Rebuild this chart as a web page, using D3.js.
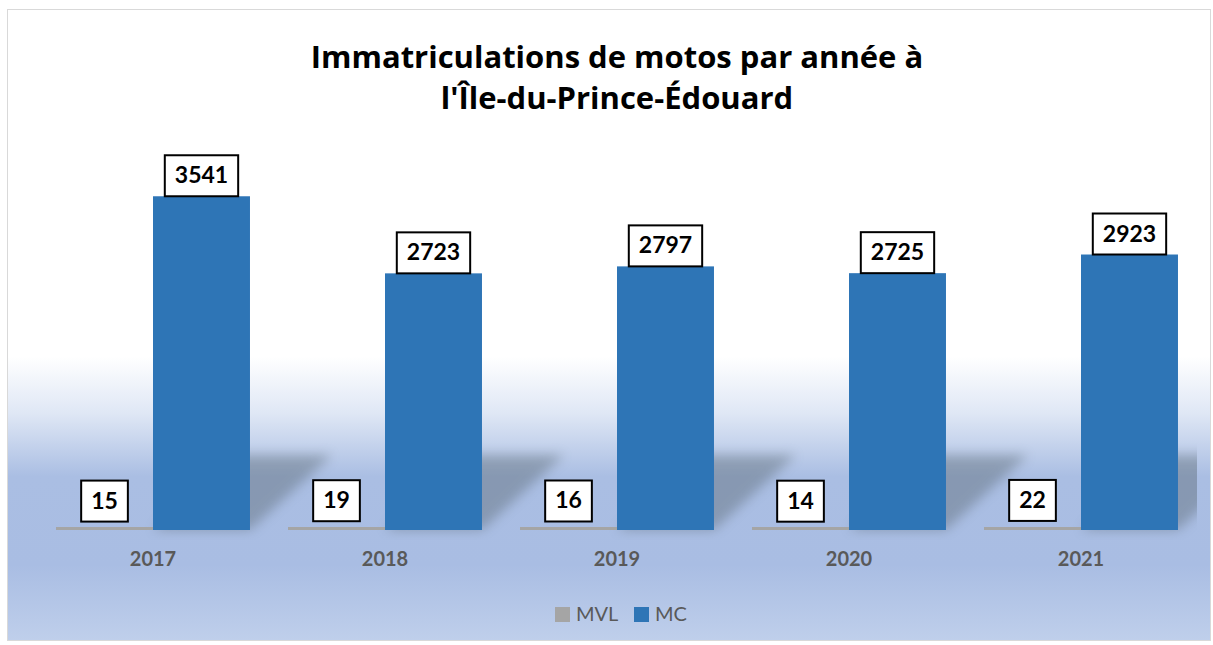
<!DOCTYPE html>
<html>
<head>
<meta charset="utf-8">
<script src="https://cdn.jsdelivr.net/npm/d3@7"></script>
<style>
  body { margin: 0; background: #fff; }
  svg { display: block; }
</style>
</head>
<body>
<script>
// data
var years = ["2017", "2018", "2019", "2020", "2021"];
var seriesNames = ["MVL", "MC"];
var mvl = [15, 19, 16, 14, 22];
var mc = [3541, 2723, 2797, 2725, 2923];
var titleLines = ["Immatriculations de motos par année à", "l'Île-du-Prince-Édouard"];

var width = 1213, height = 645;
var colors = { MVL: "#a5a5a5", MC: "#2e75b6" };
var baseY = 530;

var svg = d3.select("body").append("svg")
  .attr("width", width)
  .attr("height", height);

var defs = svg.append("defs");

// chart area background: white top fading to a light blue
var grad = defs.append("linearGradient")
  .attr("id", "bg").attr("x1", 0).attr("y1", 0).attr("x2", 0).attr("y2", 1);
[[0, "#ffffff"], [0.55, "#ffffff"], [0.64, "#dfe7f5"], [0.74, "#aabee3"],
 [0.88, "#a9bde3"], [1, "#bfcfeb"]].forEach(function(s) {
  grad.append("stop").attr("offset", s[0]).attr("stop-color", s[1]);
});

var blur = defs.append("filter").attr("id", "blur")
  .attr("x", "-30%").attr("y", "-30%").attr("width", "160%").attr("height", "160%");
blur.append("feGaussianBlur").attr("stdDeviation", 6);

defs.append("clipPath").attr("id", "plotclip")
  .append("rect").attr("x", 37).attr("y", 140).attr("width", 1160).attr("height", 400);

svg.append("rect")
  .attr("x", 7.5).attr("y", 9.5)
  .attr("width", 1203).attr("height", 631)
  .attr("fill", "url(#bg)")
  .attr("stroke", "#d9d9d9");

// title
svg.append("g").selectAll("text")
  .data(titleLines)
  .enter().append("text")
  .attr("x", 617)
  .attr("y", function(d, i) { return 68 + i * 41; })
  .attr("text-anchor", "middle")
  .style("font-family", "'Open Sans', Lato, sans-serif")
  .style("font-weight", "bold")
  .style("font-size", "31px")
  .attr("fill", "#000")
  .text(function(d) { return d; });

// scales
var x0 = d3.scaleBand()
  .domain(years)
  .range([37, 1197])
  .paddingInner(0.164)
  .paddingOuter(0.082);

var x1 = d3.scaleBand()
  .domain(seriesNames)
  .range([0, x0.bandwidth()]);

var y = d3.scaleLinear()
  .domain([0, 4000])
  .range([baseY, 153]);

var rows = years.map(function(yr, i) {
  return { year: yr, values: [{ key: "MVL", value: mvl[i] }, { key: "MC", value: mc[i] }] };
});

// perspective shadows cast by the MC bars
svg.append("g")
  .attr("clip-path", "url(#plotclip)")
  .selectAll("path")
  .data(rows)
  .enter().append("path")
  .attr("filter", "url(#blur)")
  .attr("fill", "#59666f")
  .attr("opacity", 0.42)
  .attr("d", function(d) {
    var xa = x0(d.year) + x1("MC"), xb = xa + x1.bandwidth();
    var dx = 82, topY = 455;
    return "M" + xa + "," + baseY + "L" + xb + "," + baseY +
      "L" + (xb + dx) + "," + topY + "L" + (xa + dx) + "," + topY + "Z";
  });

// bars
var groups = svg.append("g").selectAll("g")
  .data(rows)
  .enter().append("g")
  .attr("transform", function(d) { return "translate(" + x0(d.year) + ",0)"; });

groups.selectAll("rect")
  .data(function(d) { return d.values; })
  .enter().append("rect")
  .attr("x", function(d) { return x1(d.key); })
  .attr("width", x1.bandwidth())
  .attr("y", function(d) { return Math.min(y(d.value), baseY - 3); })
  .attr("height", function(d) { return Math.max(baseY - y(d.value), 3); })
  .attr("fill", function(d) { return colors[d.key]; });

// data labels in boxes
var labels = groups.selectAll("g.lbl")
  .data(function(d) { return d.values; })
  .enter().append("g")
  .attr("class", "lbl");

labels.each(function(d) {
  var g = d3.select(this);
  var cx = x1(d.key) + x1.bandwidth() / 2;
  var bottom = d.key === "MC" ? y(d.value) : y(d.value) - 7;
  var t = g.append("text")
    .attr("x", cx)
    .attr("y", bottom - 13)
    .attr("text-anchor", "middle")
    .style("font-family", "Lato, 'Open Sans', sans-serif")
    .style("font-weight", "bold")
    .style("font-size", "23px")
    .attr("fill", "#000")
    .text(d.value);
  var w = t.node().getComputedTextLength() + 20;
  g.insert("rect", "text")
    .attr("x", cx - w / 2)
    .attr("y", bottom - 41)
    .attr("width", w)
    .attr("height", 41)
    .attr("fill", "#fff")
    .attr("stroke", "#000")
    .attr("stroke-width", 2);
});

// category axis labels
var xAxis = d3.axisBottom(x0).tickSize(0).tickPadding(22);
var ax = svg.append("g")
  .attr("transform", "translate(0," + baseY + ")")
  .call(xAxis);
ax.select(".domain").remove();
ax.selectAll("text")
  .style("font-family", "Lato, 'Open Sans', sans-serif")
  .style("font-weight", "bold")
  .style("font-size", "20px")
  .attr("fill", "#595959");

// legend
var legendX = [555, 634];
var legend = svg.append("g").selectAll("g")
  .data(seriesNames)
  .enter().append("g")
  .attr("transform", function(d, i) { return "translate(" + legendX[i] + ",607)"; });
legend.append("rect")
  .attr("width", 15).attr("height", 15)
  .attr("fill", function(d) { return colors[d]; });
legend.append("text")
  .attr("x", 21).attr("y", 14)
  .style("font-family", "Lato, 'Open Sans', sans-serif")
  .style("font-size", "20px")
  .attr("fill", "#595959")
  .text(function(d) { return d; });
</script>
</body>
</html>
